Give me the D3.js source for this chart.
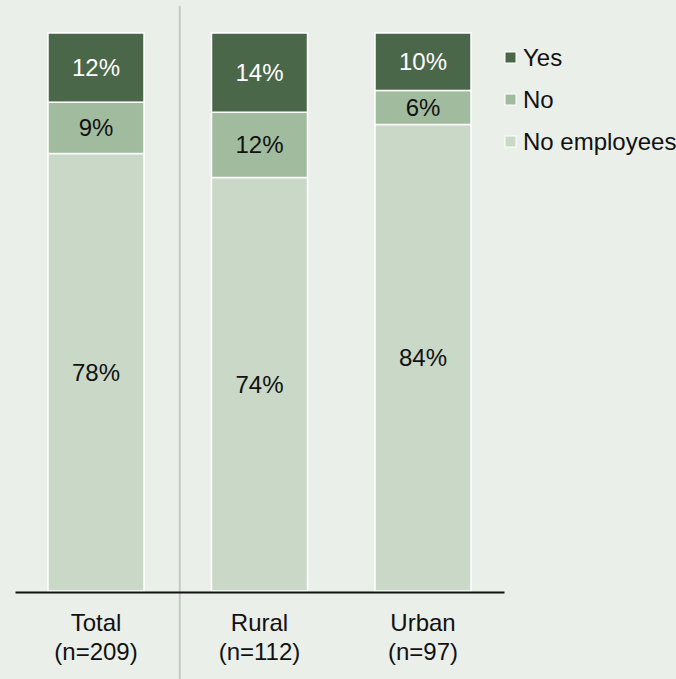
<!DOCTYPE html>
<html>
<head>
<meta charset="utf-8">
<script src="https://cdn.jsdelivr.net/npm/d3@7"></script>
<style>
  html, body { margin: 0; padding: 0; background: #ebefea; }
  svg { display: block; font-family: "Liberation Sans", Arial, sans-serif; }
</style>
</head>
<body>
<svg id="chart" width="676" height="679"></svg>
<script>
const categories = ["Total", "Rural", "Urban"];
const sampleSizes = ["(n=209)", "(n=112)", "(n=97)"];
const seriesKeys = ["No employees", "No", "Yes"];
const noEmployees = [78.4, 74.1, 83.6];
const noValues = [9.2, 11.7, 6.1];
const yesValues = [12.4, 14.2, 10.3];
const legendOrder = ["Yes", "No", "No employees"];

const colors = { "Yes": "#4b6749", "No": "#a1bb9f", "No employees": "#c9d8c7" };
const textColors = { "Yes": "#ffffff", "No": "#111111", "No employees": "#111111" };

const rows = categories.map((c, i) => ({
  cat: c, "No employees": noEmployees[i], "No": noValues[i], "Yes": yesValues[i]
}));

const svg = d3.select("#chart");
const W = 676, H = 679;
svg.append("rect").attr("width", W).attr("height", H).attr("fill", "#ebefea");

const x = d3.scaleBand().domain(categories).range([15, 504])
  .paddingInner(0.4128).paddingOuter(0.2018);
const y = d3.scaleLinear().domain([0, 100]).range([591, 33]);

const stacked = d3.stack().keys(seriesKeys)(rows);

const fmt = v => Math.round(v) + "%";

const layers = svg.append("g").selectAll("g").data(stacked).join("g")
  .attr("fill", d => colors[d.key]);

layers.selectAll("rect").data(d => d.map(p => ({ p, key: d.key }))).join("rect")
  .attr("x", d => x(d.p.data.cat))
  .attr("width", x.bandwidth())
  .attr("y", d => y(d.p[1]))
  .attr("height", d => y(d.p[0]) - y(d.p[1]))
  .attr("stroke", "#ffffff")
  .attr("stroke-width", 1.5);

layers.selectAll("text").data(d => d.map(p => ({ p, key: d.key }))).join("text")
  .attr("x", d => x(d.p.data.cat) + x.bandwidth() / 2)
  .attr("y", d => (y(d.p[0]) + y(d.p[1])) / 2)
  .attr("dy", "0.35em")
  .attr("text-anchor", "middle")
  .attr("font-size", 24)
  .attr("fill", d => textColors[d.key])
  .text(d => fmt(d.p[1] - d.p[0]));

// Separator line between Total and subgroups
const sepX = (x("Total") + x.bandwidth() + x("Rural")) / 2 + 2;
svg.append("line")
  .attr("x1", sepX).attr("x2", sepX)
  .attr("y1", 6).attr("y2", H)
  .attr("stroke", "#c6c8c6").attr("stroke-width", 2);

// Axis baseline
const xAxis = d3.axisBottom(x).tickSize(0).tickPadding(0).tickFormat("");
const axisG = svg.append("g").attr("transform", `translate(0,${y(0) + 1})`).call(xAxis);
axisG.select(".domain").attr("stroke", "#111").attr("stroke-width", 2);

// Category labels
categories.forEach((c, i) => {
  const t = svg.append("text")
    .attr("x", x(c) + x.bandwidth() / 2)
    .attr("y", 631)
    .attr("text-anchor", "middle")
    .attr("font-size", 24)
    .attr("fill", "#111");
  t.append("tspan").attr("x", x(c) + x.bandwidth() / 2).attr("dy", 0).text(c);
  t.append("tspan").attr("x", x(c) + x.bandwidth() / 2).attr("dy", 29).text(sampleSizes[i]);
});

// Legend
const legend = svg.append("g").attr("transform", "translate(505,0)");
legendOrder.forEach((k, i) => {
  const cy = 58 + i * 42;
  legend.append("rect")
    .attr("x", 0).attr("y", cy - 6)
    .attr("width", 11).attr("height", 11)
    .attr("fill", colors[k]).attr("stroke", "#ffffff").attr("stroke-width", 1);
  legend.append("text")
    .attr("x", 18).attr("y", cy)
    .attr("dy", "0.35em")
    .attr("font-size", 24)
    .attr("fill", "#111")
    .text(k);
});
</script>
</body>
</html>
